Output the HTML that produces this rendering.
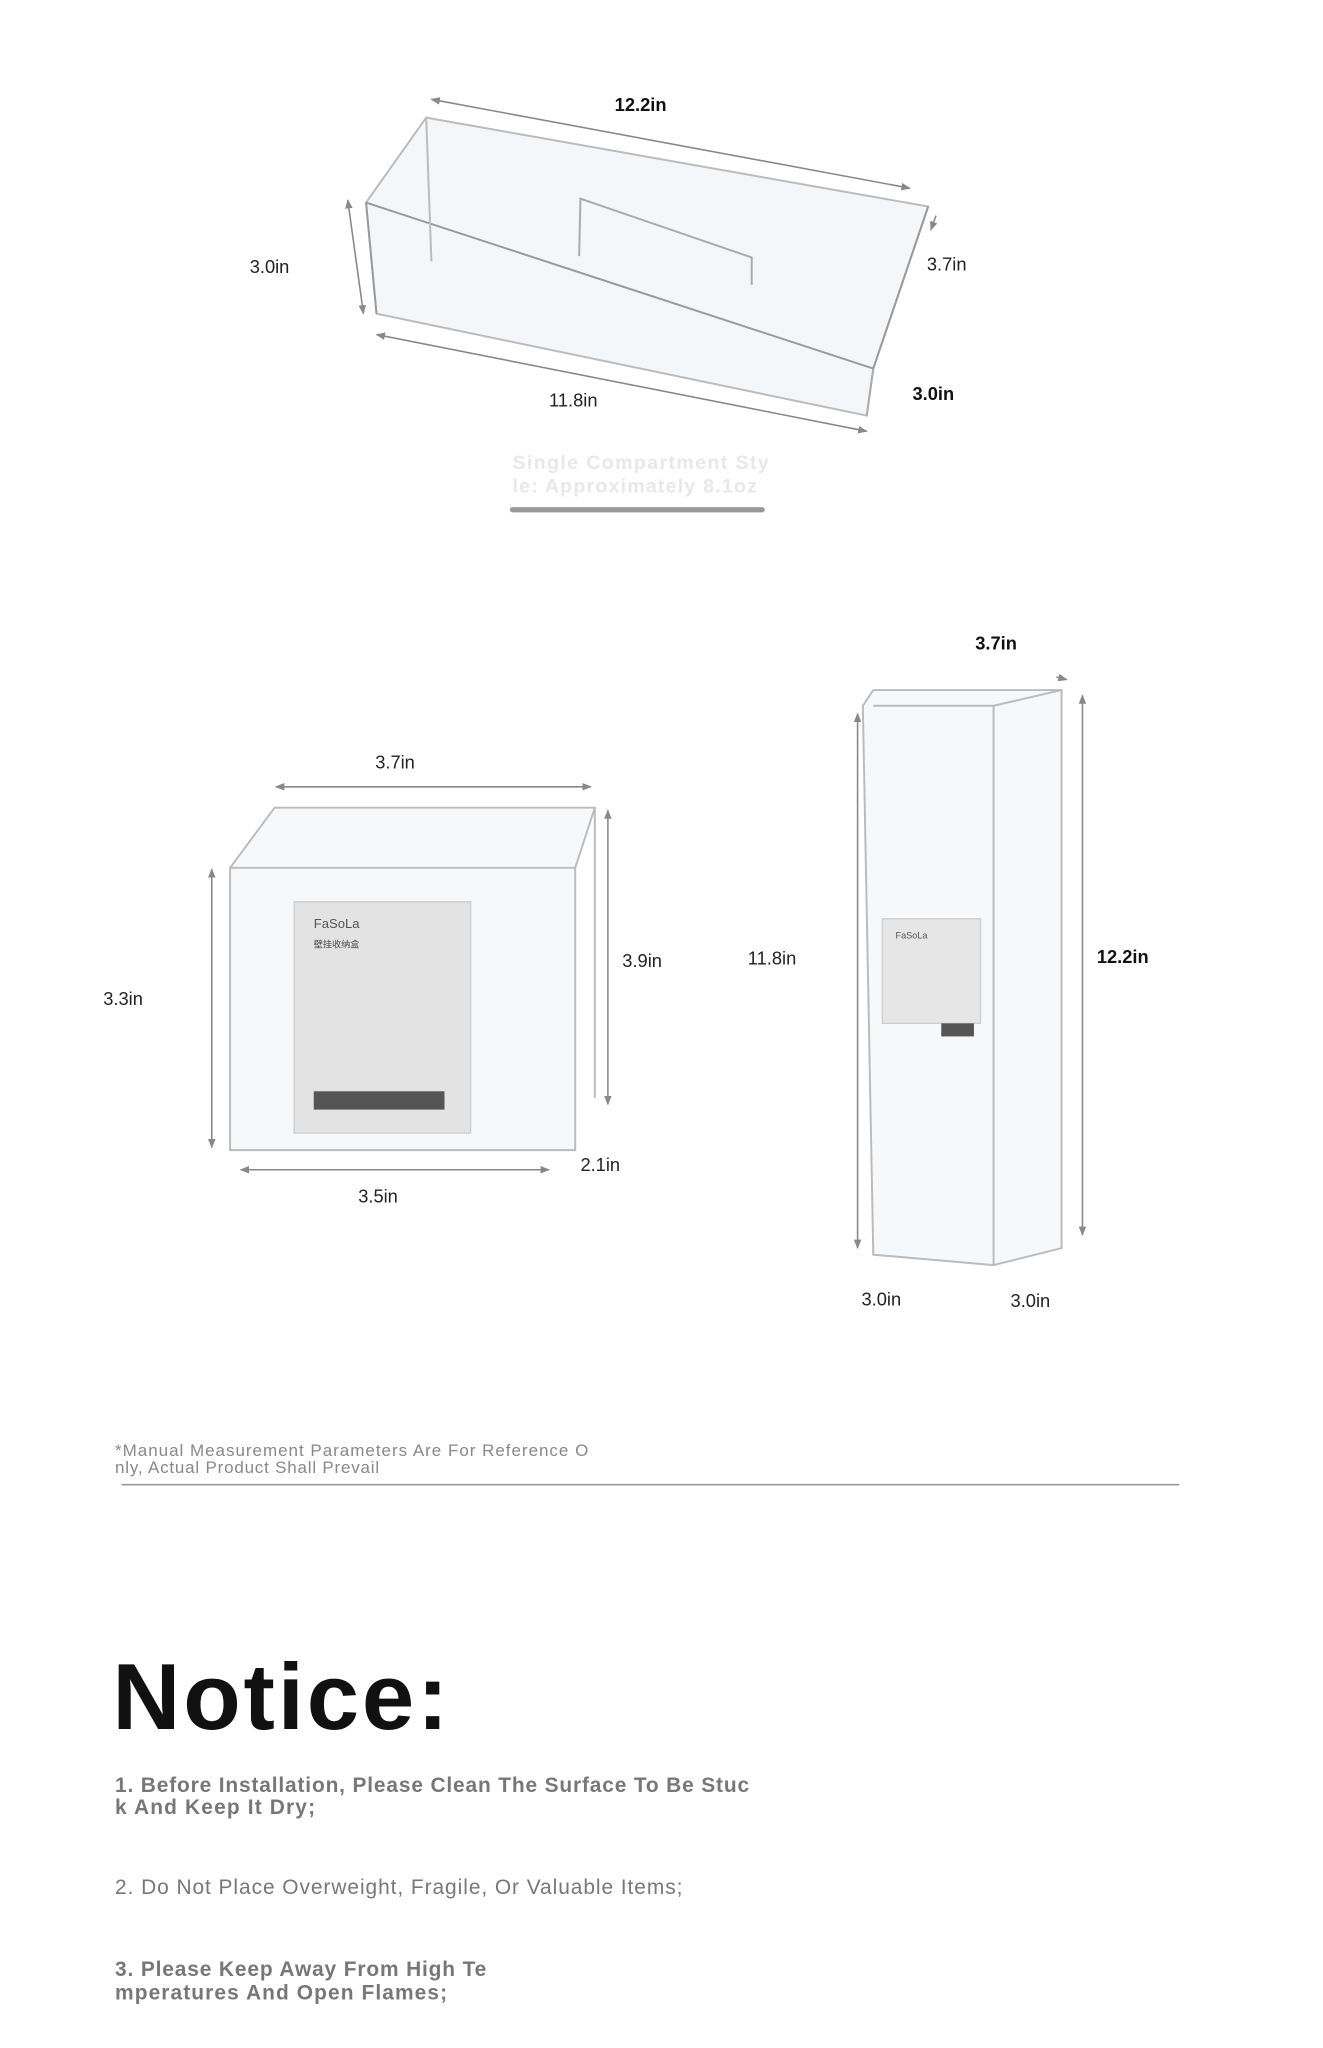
<!DOCTYPE html>
<html><head><meta charset="utf-8"><style>
html,body{margin:0;padding:0;background:#fff;}
svg{display:block;}
text{font-family:"Liberation Sans","Noto Sans CJK SC",sans-serif;}
</style></head><body>
<svg width="1323" height="2048" viewBox="0 0 1012 1567" preserveAspectRatio="none" xmlns="http://www.w3.org/2000/svg">
<defs><marker id="a" viewBox="0 0 10 10" refX="9" refY="5" markerWidth="6" markerHeight="6" orient="auto-start-reverse"><path d="M0,1 L10,5 L0,9z" fill="#888"/></marker></defs>
<rect width="1024" height="1585" fill="#fff"/>
<!-- top box -->
<g fill="#f3f4f6" stroke="#999" stroke-width="1.5">
<polygon points="280,155 326,90 710,158 668,282 663,318 288,240" fill="#f5f6f8" stroke="#bbb"/>
<polyline points="280,155 668,282 710,158" fill="none"/>
<line x1="280" y1="155" x2="288" y2="240"/>
<line x1="668" y1="282" x2="663" y2="318" stroke="#aaa"/>
<line x1="326" y1="90" x2="330" y2="200" stroke="#bbb"/>
<polyline points="443,196 444,152 575,197 575,218" fill="none" stroke="#aaa"/>
</g>
<g stroke="#888" stroke-width="1.2" fill="none">
<line x1="330" y1="76" x2="696" y2="144" marker-start="url(#a)" marker-end="url(#a)"/>
<line x1="266" y1="153" x2="278" y2="240" marker-start="url(#a)" marker-end="url(#a)"/>
<line x1="288" y1="256" x2="663" y2="330" marker-start="url(#a)" marker-end="url(#a)"/>
<line x1="716" y1="165" x2="712" y2="176" marker-end="url(#a)"/>
</g>
<text x="490" y="85" font-size="14" font-weight="bold" text-anchor="middle" fill="#111">12.2in</text>
<text x="191" y="209" font-size="14" fill="#222">3.0in</text>
<text x="709" y="207" font-size="14" fill="#222">3.7in</text>
<text x="420" y="311" font-size="14" fill="#222">11.8in</text>
<text x="698" y="306" font-size="14" font-weight="bold" fill="#111">3.0in</text>
<text x="392" y="359" font-size="15" font-weight="bold" fill="#e8e8ea" textLength="196">Single Compartment Sty</text>
<text x="392" y="377" font-size="15" font-weight="bold" fill="#e8e8ea" textLength="187">le: Approximately 8.1oz</text>
<rect x="390" y="388" width="195" height="4" rx="2" fill="#999"/>
<!-- middle-left box -->
<g stroke="#bbb" stroke-width="1.5" fill="#f7f8fa">
<polygon points="176,664 210,618 455,618 440,664 440,880 176,880"/>
<line x1="176" y1="664" x2="440" y2="664"/>
<line x1="455" y1="618" x2="455" y2="840"/>
</g>
<rect x="225" y="690" width="135" height="177" fill="#e3e3e3" stroke="#ccc"/>
<text x="240" y="710" font-size="10" fill="#555">FaSoLa</text>
<text x="240" y="725" font-size="7" fill="#444">壁挂收纳盒</text>
<rect x="240" y="835" width="100" height="14" fill="#555"/>
<g stroke="#888" stroke-width="1.2">
<line x1="211" y1="602" x2="452" y2="602" marker-start="url(#a)" marker-end="url(#a)"/>
<line x1="162" y1="665" x2="162" y2="878" marker-start="url(#a)" marker-end="url(#a)"/>
<line x1="465" y1="620" x2="465" y2="845" marker-start="url(#a)" marker-end="url(#a)"/>
<line x1="184" y1="895" x2="420" y2="895" marker-start="url(#a)" marker-end="url(#a)"/>
</g>
<text x="287" y="588" font-size="14" fill="#222">3.7in</text>
<text x="79" y="769" font-size="14" fill="#222">3.3in</text>
<text x="476" y="740" font-size="14" fill="#222">3.9in</text>
<text x="444" y="896" font-size="14" fill="#222">2.1in</text>
<text x="274" y="920" font-size="14" fill="#222">3.5in</text>
<!-- right tall box -->
<g stroke="#bbb" stroke-width="1.5" fill="#f7f8fa">
<polygon points="660,540 668,528 812,528 812,955 760,968 668,960"/>
<line x1="668" y1="540" x2="760" y2="540"/>
<line x1="760" y1="540" x2="760" y2="968"/>
<line x1="760" y1="540" x2="812" y2="528"/>
</g>
<rect x="675" y="703" width="75" height="80" fill="#e6e6e6" stroke="#ccc"/>
<text x="685" y="718" font-size="7" fill="#555">FaSoLa</text>
<rect x="720" y="783" width="25" height="10" fill="#555"/>
<g stroke="#888" stroke-width="1.2">
<line x1="656" y1="546" x2="656" y2="955" marker-start="url(#a)" marker-end="url(#a)"/>
<line x1="828" y1="532" x2="828" y2="945" marker-start="url(#a)" marker-end="url(#a)"/>
<line x1="808" y1="518" x2="816" y2="520" marker-end="url(#a)"/>
</g>
<text x="746" y="497" font-size="14" font-weight="bold" fill="#111">3.7in</text>
<text x="572" y="738" font-size="14" fill="#222">11.8in</text>
<text x="839" y="737" font-size="14" font-weight="bold" fill="#111">12.2in</text>
<text x="659" y="999" font-size="14" fill="#222">3.0in</text>
<text x="773" y="1000" font-size="14" fill="#222">3.0in</text>
<!-- footnote -->
<text x="88" y="1114" font-size="13" fill="#888" textLength="362">*Manual Measurement Parameters Are For Reference O</text>
<text x="88" y="1127" font-size="13" fill="#888" textLength="202">nly, Actual Product Shall Prevail</text>
<line x1="93" y1="1136" x2="902" y2="1136" stroke="#999" stroke-width="1.2"/>
<!-- notice -->
<text x="86" y="1323" font-size="72" font-weight="bold" fill="#111" textLength="257">Notice:</text>
<text x="88" y="1371" font-size="16" font-weight="bold" fill="#777" textLength="485">1. Before Installation, Please Clean The Surface To Be Stuc</text>
<text x="88" y="1388" font-size="16" font-weight="bold" fill="#777" textLength="153">k And Keep It Dry;</text>
<text x="88" y="1449" font-size="16" fill="#777" textLength="434">2. Do Not Place Overweight, Fragile, Or Valuable Items;</text>
<text x="88" y="1512" font-size="16" font-weight="bold" fill="#777" textLength="284">3. Please Keep Away From High Te</text>
<text x="88" y="1530" font-size="16" font-weight="bold" fill="#777" textLength="254">mperatures And Open Flames;</text>
</svg>
</body></html>
